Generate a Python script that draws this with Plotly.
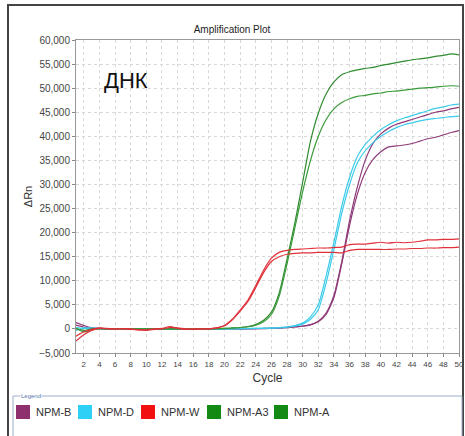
import plotly.graph_objects as go

cycles = list(range(1, 51))

npm_b_1 = [1300, 700, 250, 100, 0, 50, 0, -50, 0, -100, 0, 50, 0, -50, 0, 0, 0, 0, 0, 0,
           0, 0, 50, 50, 100, 150, 200, 300, 450, 600, 900, 1600, 3300, 7000, 14000, 22500, 29500, 35000, 38500, 40500,
           41700, 42500, 43000, 43500, 44000, 44500, 45000, 45300, 45700, 46000]
npm_b_2 = [800, 400, 150, 50, 0, 0, 50, 0, -50, 0, -50, 0, 0, 0, 50, 0, 0, 0, 0, 0,
           0, 0, 0, 50, 50, 100, 150, 250, 400, 550, 850, 1500, 3000, 6500, 13500, 21500, 28000, 32500, 35200, 36800,
           37800, 38000, 38200, 38500, 39000, 39500, 39800, 40300, 40800, 41200]
npm_d_1 = [-300, 200, 200, 100, 0, 50, 0, 0, 0, -50, 0, 0, 50, 0, 0, 0, 0, 0, 0, 0,
           50, 50, 100, 100, 150, 200, 300, 450, 700, 1200, 2500, 5000, 11000, 18000, 25500, 31500, 35800, 38300, 40000, 41400,
           42400, 43200, 43800, 44300, 44800, 45300, 45800, 46100, 46500, 46700]
npm_d_2 = [300, 100, 0, 50, 0, 0, 0, 50, 0, 0, -50, 0, 0, 0, 0, 50, 0, 0, 0, 0,
           0, 50, 50, 100, 100, 150, 200, 350, 600, 1000, 2000, 4000, 9500, 16500, 24000, 30000, 34500, 37000, 38700, 40000,
           41000, 41800, 42400, 42800, 43200, 43500, 43700, 43900, 44100, 44200]
npm_w_1 = [-2500, -1200, -300, 100, 0, 0, 50, 0, -200, -300, -100, 100, 500, 100, -100, 0, 0, 0, 200, 700,
           2000, 3900, 6000, 9000, 12200, 14700, 15900, 16300, 16500, 16600, 16700, 16800, 16800, 16900, 17000, 17500, 17600, 17600, 17800, 18000,
           17800, 18000, 17900, 18000, 18200, 18500, 18500, 18600, 18600, 18700]
npm_w_2 = [-1500, -600, -100, 200, 100, 0, 0, -100, -200, -200, 0, 0, 300, 200, 0, -100, 0, 0, 200, 650,
           1900, 3700, 5700, 8600, 11700, 14000, 15000, 15500, 15700, 15800, 15800, 15900, 15900, 15900, 15800, 16300, 16500, 16500, 16500, 16500,
           16500, 16600, 16600, 16700, 16700, 16800, 16800, 16900, 16900, 17000]
npm_a3 = [0, -300, 0, 100, 0, 0, 0, 0, 0, 0, 0, 0, 0, 0, 0, 0, 0, 0, 50, 100,
          200, 300, 500, 900, 1800, 3500, 7500, 14500, 22000, 30500, 39000, 44800, 48800, 51300, 52800, 53400, 53800, 54100, 54300, 54700,
          55000, 55300, 55600, 55900, 56100, 56300, 56600, 56800, 57100, 56900]
npm_a = [200, -600, -200, 0, 0, 0, 0, 0, 0, 0, 0, 0, 0, 0, 0, 0, 0, 0, 50, 100,
         200, 300, 450, 800, 1500, 3000, 6800, 13500, 21000, 28500, 35000, 40000, 43500, 45700, 47000, 47800, 48300, 48500, 48800, 49000,
         49300, 49400, 49600, 49800, 50000, 50100, 50200, 50400, 50500, 50400]

names = ["NPM-B", "NPM-D", "NPM-W", "NPM-A3", "NPM-A"]
colors = {"NPM-B": "#8E3A78", "NPM-D": "#3CCBEA", "NPM-W": "#E0303A", "NPM-A3": "#2E8B2E", "NPM-A": "#3A9A3A"}
legend_colors = {"NPM-B": "#8E2F6E", "NPM-D": "#2FD0F5", "NPM-W": "#F01010", "NPM-A3": "#138A13", "NPM-A": "#138A13"}

series = [("NPM-B", npm_b_1), ("NPM-B", npm_b_2), ("NPM-D", npm_d_1), ("NPM-D", npm_d_2),
          ("NPM-A3", npm_a3), ("NPM-A", npm_a), ("NPM-W", npm_w_1), ("NPM-W", npm_w_2)]

y_ticks = list(range(-5000, 60001, 5000))
x_ticks = list(range(2, 51, 2))

# layout geometry (pixels)
W, H = 465, 436
L, R, T, B = 76, 6, 40, 83
PW, PH = W - L - R, H - T - B


def px(x):
    return (x - L) / PW


def py(y):
    return (H - B - y) / PH


fig = go.Figure()
for name, vals in series:
    fig.add_trace(go.Scatter(x=cycles, y=vals, mode="lines", name=name, showlegend=False,
                             line=dict(color=colors[name], width=1.2, shape="spline", smoothing=0.6)))

fig.update_layout(
    width=W, height=H,
    margin=dict(l=L, r=R, t=T, b=B, autoexpand=False),
    paper_bgcolor="white", plot_bgcolor="white",
    showlegend=False,
    title=dict(text="Amplification Plot", x=px(232), xanchor="center", xref="paper",
               y=1 - 29 / H, yanchor="middle",
               font=dict(family="Liberation Sans, Arial", size=10, color="#222")),
    xaxis=dict(range=[1, 50], tickvals=x_ticks, ticks="outside", ticklen=3, tickcolor="#888",
               showline=True, linecolor="#999", mirror=True, showgrid=True, gridcolor="#d8d8d8",
               griddash="dot", zeroline=False,
               tickfont=dict(family="Liberation Sans, Arial", size=8, color="#444"),
               title=dict(text="Cycle", font=dict(family="Liberation Sans, Arial", size=12, color="#333"), standoff=6)),
    yaxis=dict(range=[-5000, 60000], tickvals=y_ticks, tickformat=",d", ticks="outside", ticklen=3, tickcolor="#888",
               showline=True, linecolor="#999", mirror=True, showgrid=True, gridcolor="#d8d8d8",
               griddash="dot", zeroline=False,
               tickfont=dict(family="Liberation Sans, Arial", size=10, color="#444"),
               title=dict(text="ΔRn", font=dict(family="Liberation Sans, Arial", size=11, color="#333"), standoff=4)),
)
fig.add_annotation(text="ДНК", xref="paper", yref="paper", x=px(126), y=py(80),
                   xanchor="center", yanchor="middle",
                   showarrow=False, font=dict(family="Liberation Sans, Arial", size=22, color="#111"))
# outer frame
fig.add_shape(type="rect", xref="paper", yref="paper", x0=px(8), x1=px(463),
              y0=py(445), y1=py(5), line=dict(color="#444", width=2), layer="below")
# legend frame
fig.add_shape(type="rect", xref="paper", yref="paper", x0=px(13), x1=px(462),
              y0=py(450), y1=py(396), line=dict(color="#9aaecc", width=1), layer="below")
fig.add_annotation(text="Legend", xref="paper", yref="paper", x=px(20), y=py(396),
                   xanchor="left", yanchor="middle", showarrow=False, bgcolor="white",
                   borderpad=0, font=dict(family="Liberation Sans, Arial", size=6, color="#5577aa"))
# legend entries
square_left = [16, 78, 141, 207, 274]
for name, sx in zip(names, square_left):
    fig.add_shape(type="rect", xref="paper", yref="paper", x0=px(sx), x1=px(sx + 14),
                  y0=py(419), y1=py(405), fillcolor=legend_colors[name], line=dict(width=0))
    fig.add_annotation(text=name, xref="paper", yref="paper", x=px(sx + 18), y=py(412),
                       xanchor="left", yanchor="middle", showarrow=False,
                       font=dict(family="Liberation Sans, Arial", size=11, color="#333"))

fig.write_html("out.html", config={"displayModeBar": False},
               post_script="document.body.style.margin='0';document.body.style.overflow='hidden';")
